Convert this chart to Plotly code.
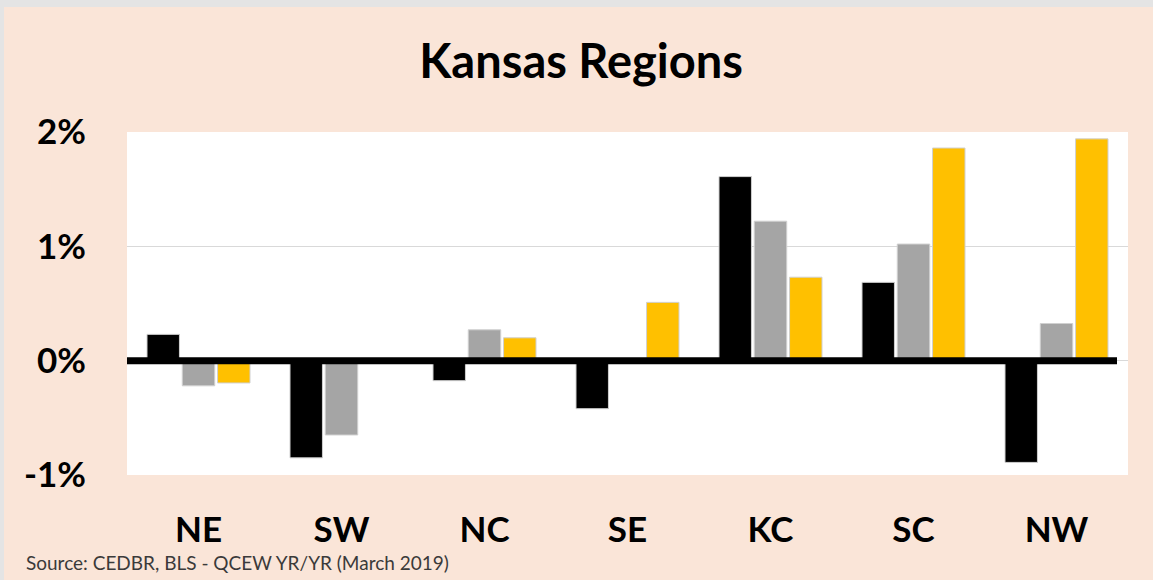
import plotly.graph_objects as go

categories = ["NE", "SW", "NC", "SE", "KC", "SC", "NW"]
series1 = [0.23, -0.85, -0.175, -0.42, 1.61, 0.685, -0.89]
series2 = [-0.22, -0.65, 0.27, 0.0, 1.22, 1.02, 0.325]
series3 = [-0.195, 0.02, 0.20, 0.51, 0.73, 1.86, 1.94]
tick_vals = [-1, 0, 1, 2]
tick_text = ["-1%", "0%", "1%", "2%"]

colors = ["#000000", "#A5A5A5", "#FFC000"]
FONT = "Lato"

fig = go.Figure()
for vals, c in zip([series1, series2, series3], colors):
    fig.add_trace(go.Bar(
        x=categories, y=vals,
        marker=dict(color=c, line=dict(color="#D0D0D0", width=1)),
        showlegend=False,
    ))

W, H = 1153, 580
L, R, T, B = 127, 25, 132, 105
pw, ph = W - L - R, H - T - B


def px_x(p):
    return (p - L) / pw


def px_y(p):
    return (H - B - p) / ph


fig.update_layout(
    width=W, height=H,
    margin=dict(l=L, r=R, t=T, b=B),
    paper_bgcolor="#FAE5D8",
    plot_bgcolor="#FFFFFF",
    barmode="group",
    bargap=0.26,
    bargroupgap=0.08,
    title=dict(text="<b>Kansas Regions</b>", x=0.504, xref="container", xanchor="center",
               y=1 - 62 / H, yref="container", yanchor="middle",
               font=dict(family=FONT, size=47, color="#000000")),
    font=dict(family=FONT, color="#000000"),
    xaxis=dict(showgrid=False, showline=False, ticks="", zeroline=False,
               tickfont=dict(family=FONT, size=35, color="#000000", weight="bold"),
               ticklabelstandoff=31),
    yaxis=dict(range=[-1, 2], tickvals=tick_vals, ticktext=tick_text,
               showgrid=True, gridcolor="#D9D9D9", gridwidth=1,
               zeroline=False, showline=False, ticks="",
               tickfont=dict(family=FONT, size=35, color="#000000", weight="bold"),
               ticklabelstandoff=40),
    shapes=[
        # light gray window frame at top and left edges
        dict(type="rect", xref="paper", yref="paper", layer="below",
             x0=px_x(-5), x1=px_x(W + 5), y0=px_y(7), y1=px_y(-5),
             fillcolor="#E4E4E4", line=dict(width=0)),
        dict(type="rect", xref="paper", yref="paper", layer="below",
             x0=px_x(-5), x1=px_x(4), y0=px_y(H + 5), y1=px_y(-5),
             fillcolor="#E4E4E4", line=dict(width=0)),
        # thick zero line drawn over the bars
        dict(type="line", xref="paper", yref="y", layer="above",
             x0=0, x1=px_x(1117), y0=0, y1=0,
             line=dict(color="#000000", width=7)),
    ],
    annotations=[
        dict(text="Source: CEDBR, BLS - QCEW YR/YR (March 2019)", xref="paper", yref="paper",
             x=px_x(24), y=px_y(562), xanchor="left", yanchor="middle", showarrow=False,
             font=dict(family=FONT, size=19, color="#3A3A3A")),
    ],
)

fig.write_html("out.html", config={"displayModeBar": False},
               post_script="document.body.style.margin='0px';document.body.style.overflow='hidden';")
